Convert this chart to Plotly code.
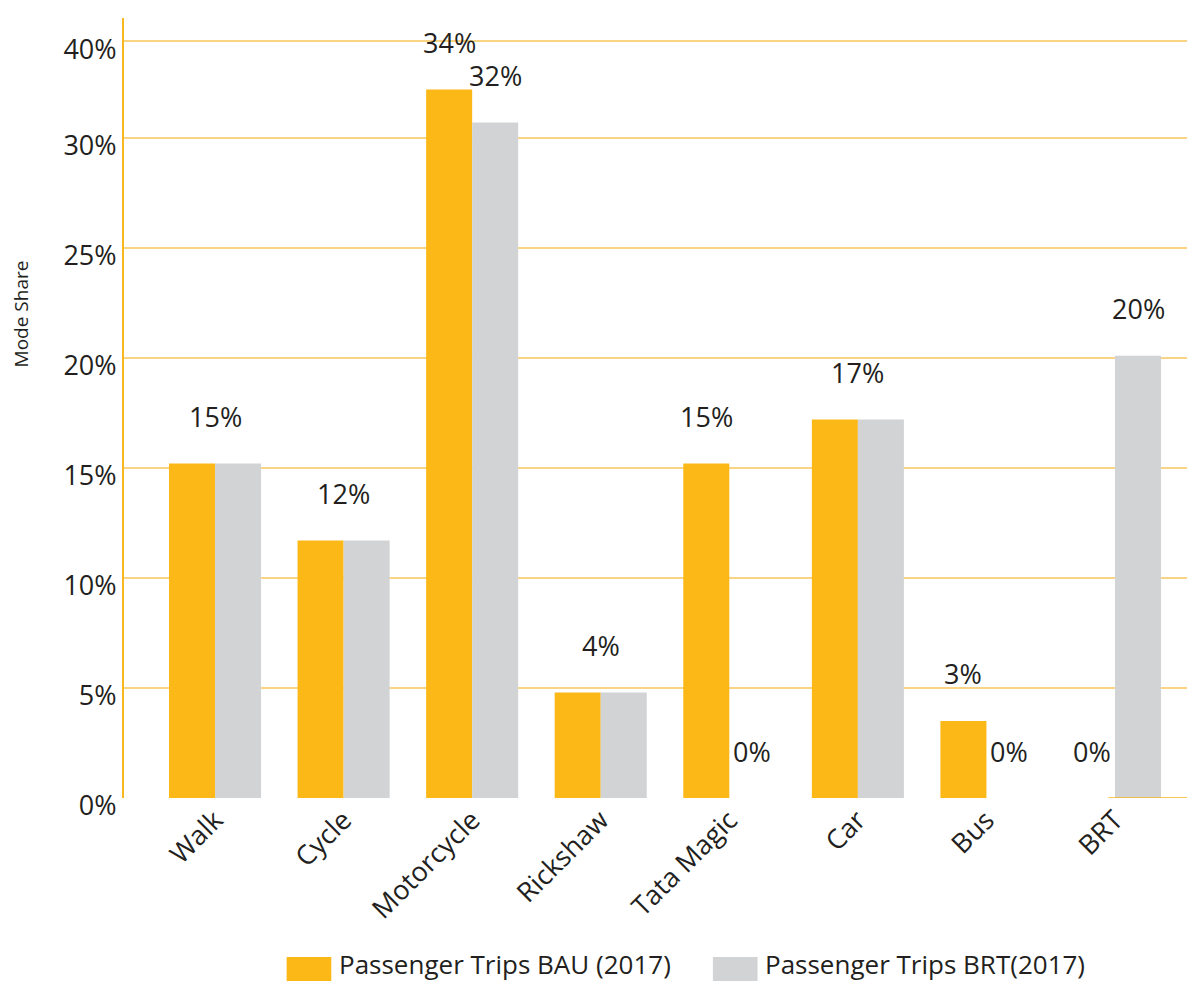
import plotly.graph_objects as go

# Mode share by travel mode, BAU vs BRT scenario (2017)
modes = ['Walk', 'Cycle', 'Motorcycle', 'Rickshaw', 'Tata Magic', 'Car', 'Bus', 'BRT']
bau = [0.152, 0.117, 0.322, 0.048, 0.152, 0.172, 0.035, 0.0]
brt = [0.152, 0.117, 0.307, 0.048, 0.0, 0.172, 0.0, 0.201]
bau_text = ['15%', '12%', '34%', '4%', '15%', '17%', '3%', '0%']
brt_text = ['15%', '12%', '32%', '4%', '0%', '17%', '0%', '20%']

ytick_vals = [0, 0.05, 0.10, 0.15, 0.20, 0.25, 0.30, 0.344]
ytick_text = ['0%', '5%', '10%', '15%', '20%', '25%', '30%', '40%']

ORANGE = '#FBB817'
GREY = '#D1D3D4'
FONT = 'Open Sans'
TXT = '#231F20'

fig = go.Figure()
fig.add_trace(go.Bar(x=modes, y=bau, name='Passenger Trips BAU (2017)', marker=dict(color=ORANGE, line=dict(width=0))))
fig.add_trace(go.Bar(x=modes, y=brt, name='Passenger Trips BRT(2017)', marker=dict(color=GREY, line=dict(width=0))))

# Value labels: one centred label when both scenarios match, else one per bar
for i, m in enumerate(modes):
    if bau_text[i] == brt_text[i]:
        fig.add_annotation(x=m, y=max(bau[i], brt[i]), text=bau_text[i], showarrow=False, yshift=47)
    else:
        fig.add_annotation(x=m, y=bau[i], text=bau_text[i], showarrow=False, yshift=47, xshift=-23)
        fig.add_annotation(x=m, y=brt[i], text=brt_text[i], showarrow=False, yshift=47, xshift=23)

fig.update_annotations(font=dict(family=FONT, size=27, color=TXT))

# Legend drawn by hand so the swatches can be large blocks like the original
legend_items = [(0.153, ORANGE, 'Passenger Trips BAU (2017)'), (0.554, GREY, 'Passenger Trips BRT(2017)')]
for x0, col, label in legend_items:
    fig.add_shape(type='rect', xref='paper', yref='paper', x0=x0, x1=x0 + 0.042, y0=-0.24, y1=-0.204,
                  fillcolor=col, line=dict(width=0))
    fig.add_annotation(xref='paper', yref='paper', x=x0 + 0.047, y=-0.213, text=label, showarrow=False,
                       xanchor='left', yanchor='middle', font=dict(family=FONT, size=26, color=TXT))

# Axis title sits above the middle of the axis in the original
fig.add_annotation(xref='paper', yref='paper', x=-0.111, y=0.62, text='Mode Share', textangle=-90,
                   showarrow=False, font=dict(family=FONT, size=19, color=TXT))

# Short stub of the baseline visible at the far right
fig.add_shape(type='line', xref='paper', yref='y', x0=0.926, x1=1, y0=0, y1=0,
              line=dict(color='#F8B620', width=1.5))

fig.update_layout(template='plotly_white', font_family=FONT,
                  barmode='group', bargap=0.284, bargroupgap=0,
                  plot_bgcolor='white', paper_bgcolor='white',
                  margin=dict(l=116, r=0, t=10, b=183),
                  showlegend=False,
                  xaxis=dict(range=[-0.708, 7.56], tickangle=-45, showgrid=False, showline=False,
                             tickfont=dict(family=FONT, size=27, color=TXT), ticks=''),
                  yaxis=dict(range=[0, 0.3545], tickvals=ytick_vals, ticktext=ytick_text,
                             showgrid=True, gridcolor='#FAD485', gridwidth=1.5, zeroline=False,
                             showline=True, linecolor='#F8B620', linewidth=2,
                             ticklabelshift=8,
                             tickfont=dict(family=FONT, size=27, color=TXT)))

fig.write_html("out.html")
